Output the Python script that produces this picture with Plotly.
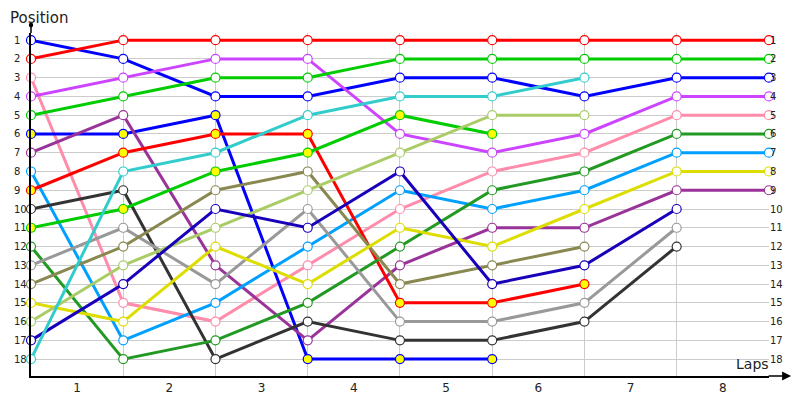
import plotly.graph_objects as go

# lap points (0 = start grid) and tick labels
laps = [0, 1, 2, 3, 4, 5, 6, 7, 8]
lap_labels = ["1", "2", "3", "4", "5", "6", "7", "8"]
lap_label_pos = [0.5, 1.5, 2.5, 3.5, 4.5, 5.5, 6.5, 7.5]
position_ticks = list(range(1, 19))

# position of each car after every lap, by starting grid slot (None = out)
start01 = [1, 2, 4, 4, 3, 3, 4, 3, 3]
start02 = [2, 1, 1, 1, 1, 1, 1, 1, 1]
start03 = [3, 15, 16, 13, 10, 8, 7, 5, 5]
start04 = [4, 3, 2, 2, 6, 7, 6, 4, 4]
start05 = [5, 4, 3, 3, 2, 2, 2, 2, 2]
start06 = [6, 6, 5, 18, 18, 18, None, None, None]
start07 = [7, 5, 13, 17, 13, 11, 11, 9, 9]
start08 = [8, 17, 15, 12, 9, 10, 9, 7, 7]
start09 = [9, 7, 6, 6, 15, 15, 14, None, None]
start10 = [10, 9, 18, 16, 17, 17, 16, 12, None]
start11 = [11, 10, 8, 7, 5, 6, None, None, None]
start12 = [12, 18, 17, 15, 12, 9, 8, 6, 6]
start13 = [13, 11, 14, 10, 16, 16, 15, 11, None]
start14 = [14, 12, 9, 8, 14, 13, 12, None, None]
start15 = [15, 16, 12, 14, 11, 12, 10, 8, 8]
start16 = [16, 13, 11, 9, 7, 5, 5, None, None]
start17 = [17, 14, 10, 11, 8, 14, 13, 10, None]
start18 = [18, 8, 7, 5, 4, 4, 3, None, None]

cars = [start01, start02, start03, start04, start05, start06, start07, start08,
        start09, start10, start11, start12, start13, start14, start15, start16,
        start17, start18]

# styles
colors = ["#0000FF", "#FF0000", "#FF8CAA", "#CC44FF", "#00CC00", "#0000FF",
          "#993399", "#00A0FF", "#FF0000", "#333333", "#00CC00", "#229922",
          "#999999", "#888850", "#DDDD00", "#AACC66", "#1800BB", "#33CCCC"]
yellow_fill = {5, 8, 10}

fig = go.Figure()

for i, pos in enumerate(cars):
    fill = "#FFFF00" if i in yellow_fill else "white"
    fig.add_trace(go.Scatter(
        x=laps, y=pos, mode="lines+markers",
        line=dict(color=colors[i], width=3),
        marker=dict(size=9, color=fill, line=dict(color=colors[i], width=1.2)),
        showlegend=False, cliponaxis=False))

# invisible trace so the right-hand position axis is drawn
fig.add_trace(go.Scatter(x=laps[:1], y=position_ticks[:1], yaxis="y2",
                         mode="markers", marker=dict(opacity=0),
                         hoverinfo="skip", showlegend=False))

# the page body keeps its default 8px margin, so the margins are shifted
fig.update_layout(
    width=800, height=400,
    margin=dict(l=23, r=39, t=25, b=32),
    plot_bgcolor="white", paper_bgcolor="white",
    font=dict(family="DejaVu Sans", color="#222222"),
    xaxis=dict(range=[0, 8.001], tickmode="array", tickvals=lap_label_pos,
               ticktext=lap_labels, showgrid=False, zeroline=False,
               showline=True, linecolor="black", linewidth=1.5,
               tickfont=dict(size=12), ticks="", automargin=False,
               minor=dict(tickmode="array", tickvals=laps, showgrid=True,
                          gridcolor="#CCCCCC", gridwidth=1)),
    yaxis=dict(range=[18.9, 0.62], tickmode="array", tickvals=position_ticks,
               showticklabels=False,
               showgrid=True, gridcolor="#CCCCCC", gridwidth=1, zeroline=False,
               showline=True, linecolor="black", linewidth=1.5,
               ticks="", automargin=False),
    yaxis2=dict(range=[18.9, 0.62], tickmode="array", tickvals=position_ticks,
                overlaying="y", side="right", anchor="x", showgrid=False,
                zeroline=False, showline=False, tickfont=dict(size=10),
                ticks="", automargin=False),
)

# left-hand position labels, left aligned like the reference
for p in position_ticks:
    fig.add_annotation(x=-0.026, y=p, xref="paper", yref="y", text=str(p),
                       showarrow=False, xanchor="left", yanchor="middle",
                       font=dict(size=10, color="#222222"))

# axis extensions: y up to a dot, x out to an arrow
fig.add_shape(type="line", xref="paper", yref="paper", x0=0, x1=0,
              y0=1, y1=1.024, line=dict(color="black", width=1.5))
fig.add_shape(type="circle", xref="paper", yref="paper",
              x0=-0.003, x1=0.003, y0=1.016, y1=1.03,
              fillcolor="black", line=dict(color="black", width=0))
fig.add_annotation(x=1.03, y=0, xref="paper", yref="paper", ax=-24, ay=0,
                   text="", showarrow=True, arrowhead=2, arrowsize=1.2,
                   arrowwidth=1.5, arrowcolor="black")

fig.add_annotation(x=-0.03, y=1.072, xref="paper", yref="paper",
                   text="Position", showarrow=False, xanchor="left",
                   yanchor="top", borderpad=0,
                   font=dict(size=15, color="#222222"))
fig.add_annotation(x=1.003, y=0.005, xref="paper", yref="paper",
                   text="Laps", showarrow=False, xanchor="right",
                   yanchor="bottom", font=dict(size=14, color="#222222"))

fig.write_html("out.html")
